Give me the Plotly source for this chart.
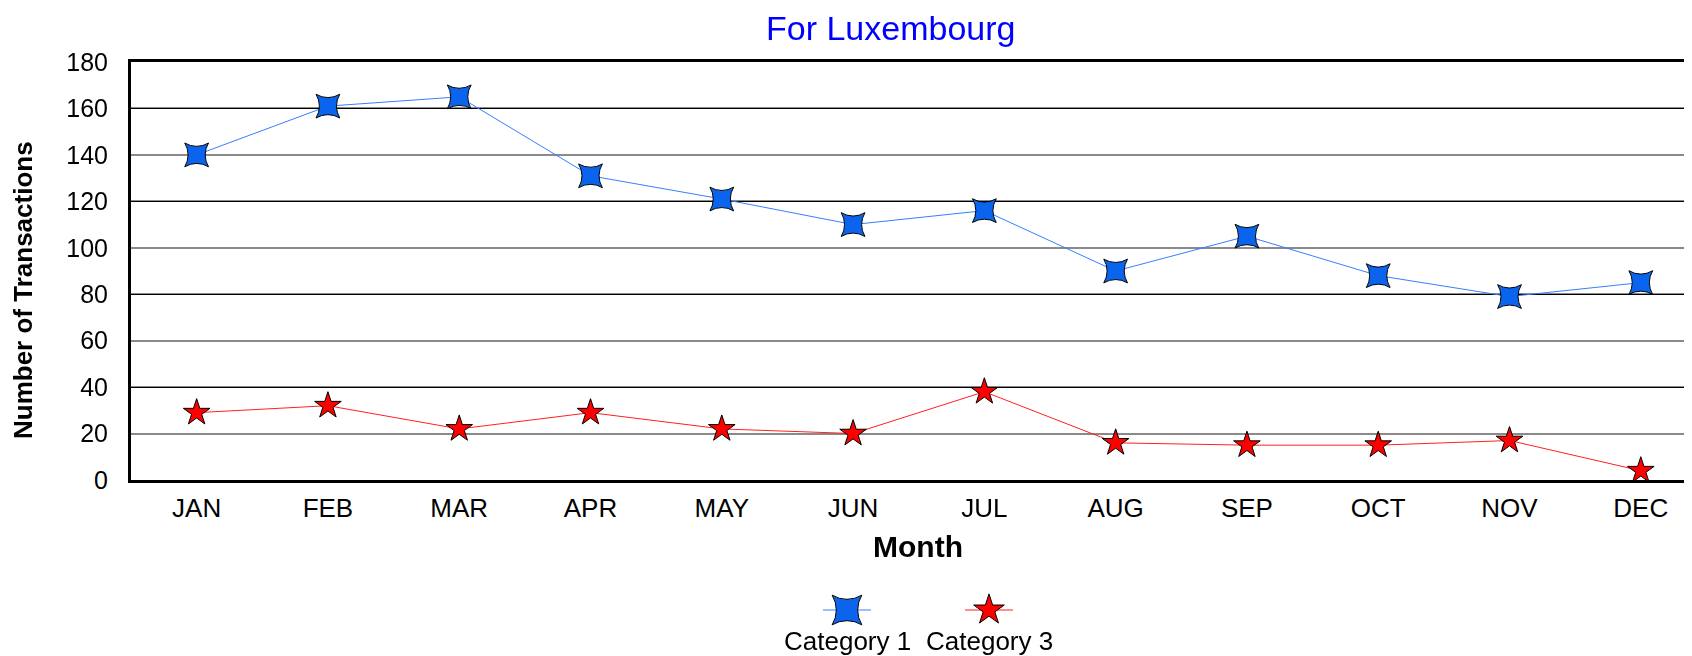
import plotly.graph_objects as go

months = ["JAN", "FEB", "MAR", "APR", "MAY", "JUN", "JUL", "AUG", "SEP", "OCT", "NOV", "DEC"]
cat1 = [140, 161, 165, 131, 121, 110, 116, 90, 105, 88, 79, 85]
cat3 = [29, 32, 22, 29, 22, 20, 38, 16, 15, 15, 17, 4]
series_names = ["Category 1", "Category 3"]

FONT = "Liberation Sans, Arial, sans-serif"
BLUE_LINE = "#3580ff"
BLUE_FILL = "#0a64ee"
RED_LINE = "#ff2020"
RED_FILL = "#ff0000"

OFF = 8                      # page body margin
W, H = 1692 - OFF, 656 - OFF
ML = 131 - OFF
MT = 62 - OFF
PLOT_BOTTOM = 480 - OFF
ydom0 = (H - PLOT_BOTTOM) / (H - MT)

fig = go.Figure()

fig.add_trace(go.Scatter(
    x=months, y=cat1, name=series_names[0], mode="lines+markers",
    line=dict(color=BLUE_LINE, width=1),
    marker=dict(symbol="star-diamond", angle=45, size=24, color=BLUE_FILL,
                line=dict(color="black", width=1)),
    xaxis="x", yaxis="y3", showlegend=False))
fig.add_trace(go.Scatter(
    x=months, y=cat3, name=series_names[1], mode="lines+markers",
    line=dict(color=RED_LINE, width=1),
    marker=dict(symbol="star", size=20, color=RED_FILL,
                line=dict(color="black", width=1)),
    xaxis="x", yaxis="y3", showlegend=False))
# invisible trace so the main y subplot exists
fig.add_trace(go.Scatter(x=months, y=cat3, mode="markers", opacity=0,
                         xaxis="x", yaxis="y", showlegend=False, hoverinfo="skip"))

# custom legend (symbols above labels), page-pixel coordinates
leg_x = [847 - OFF, 989 - OFF]
leg_y = 610 - OFF
leg_txt_y = 641 - OFF
leg_half = 24
for i, (nm, lc, fc, sym, sz, ang) in enumerate([
        (series_names[0], BLUE_LINE, BLUE_FILL, "star-diamond", 30, 45),
        (series_names[1], RED_LINE, RED_FILL, "star", 23, 0)]):
    fig.add_trace(go.Scatter(
        x=[leg_x[i] - leg_half, leg_x[i] + leg_half], y=[leg_y, leg_y],
        mode="lines", line=dict(color=lc, width=1.2),
        xaxis="x2", yaxis="y2", showlegend=False, hoverinfo="skip"))
    fig.add_trace(go.Scatter(
        x=[leg_x[i]], y=[leg_y], mode="markers",
        marker=dict(symbol=sym, angle=ang, size=sz, color=fc,
                    line=dict(color="black", width=1)),
        xaxis="x2", yaxis="y2", showlegend=False, hoverinfo="skip"))
    fig.add_annotation(x=leg_x[i], y=leg_txt_y, xref="x2", yref="y2", text=nm,
                       showarrow=False, font=dict(family=FONT, size=26, color="black"),
                       xanchor="center", yanchor="middle")

fig.update_layout(
    width=W, height=H,
    margin=dict(l=ML, r=0, t=MT, b=0, autoexpand=False),
    paper_bgcolor="white", plot_bgcolor="white",
    showlegend=False,
    xaxis=dict(type="category", range=[-0.5, 11.39], showgrid=False,
               showline=True, linecolor="black", linewidth=3, mirror=True,
               ticks="", tickfont=dict(family=FONT, size=26, color="black"),
               ticklabelstandoff=3, anchor="y", zeroline=False, domain=[0, 1],
               automargin=False),
    yaxis=dict(range=[0, 180], dtick=20, tick0=0, domain=[ydom0, 1],
               showgrid=True, gridcolor="#8a8a8a", gridwidth=1.5,
               showline=True, linecolor="black", linewidth=3,
               ticks="", tickfont=dict(family=FONT, size=25, color="black"),
               ticklabelstandoff=15, zeroline=False, anchor="x", side="left",
               automargin=False),
    yaxis3=dict(range=[0, 180], dtick=40, tick0=40, overlaying="y", anchor="x",
                domain=[ydom0, 1], side="left",
                showgrid=True, gridcolor="black", gridwidth=1,
                showticklabels=False, showline=False, zeroline=False, ticks=""),
    xaxis2=dict(domain=[0, 1], range=[ML, W], visible=False, anchor="y2"),
    yaxis2=dict(domain=[0, ydom0], range=[H, PLOT_BOTTOM], visible=False, anchor="x2"),
)

plot_h = H - MT
plot_w = W - ML
# chart title (anchored to the top of the figure)
fig.add_annotation(text="For Luxembourg", xref="paper", yref="paper",
                   x=(890 - OFF - ML) / plot_w, y=H / plot_h,
                   showarrow=False, xanchor="center", yanchor="top", borderpad=0,
                   font=dict(family=FONT, size=34, color="#0000ff"))
# axis titles
fig.add_annotation(text="<b>Month</b>", xref="paper", yref="paper",
                   x=(918 - OFF - ML) / plot_w, y=(H - (546 - OFF)) / plot_h,
                   showarrow=False, xanchor="center", yanchor="middle",
                   font=dict(family=FONT, size=30, color="black"))
fig.add_annotation(text="<b>Number of Transactions</b>", xref="paper", yref="paper",
                   x=(23 - OFF - ML) / plot_w, y=(H - (290 - OFF)) / plot_h, textangle=-90,
                   showarrow=False, xanchor="center", yanchor="middle",
                   font=dict(family=FONT, size=26, color="black"))

fig.write_html("out.html")
